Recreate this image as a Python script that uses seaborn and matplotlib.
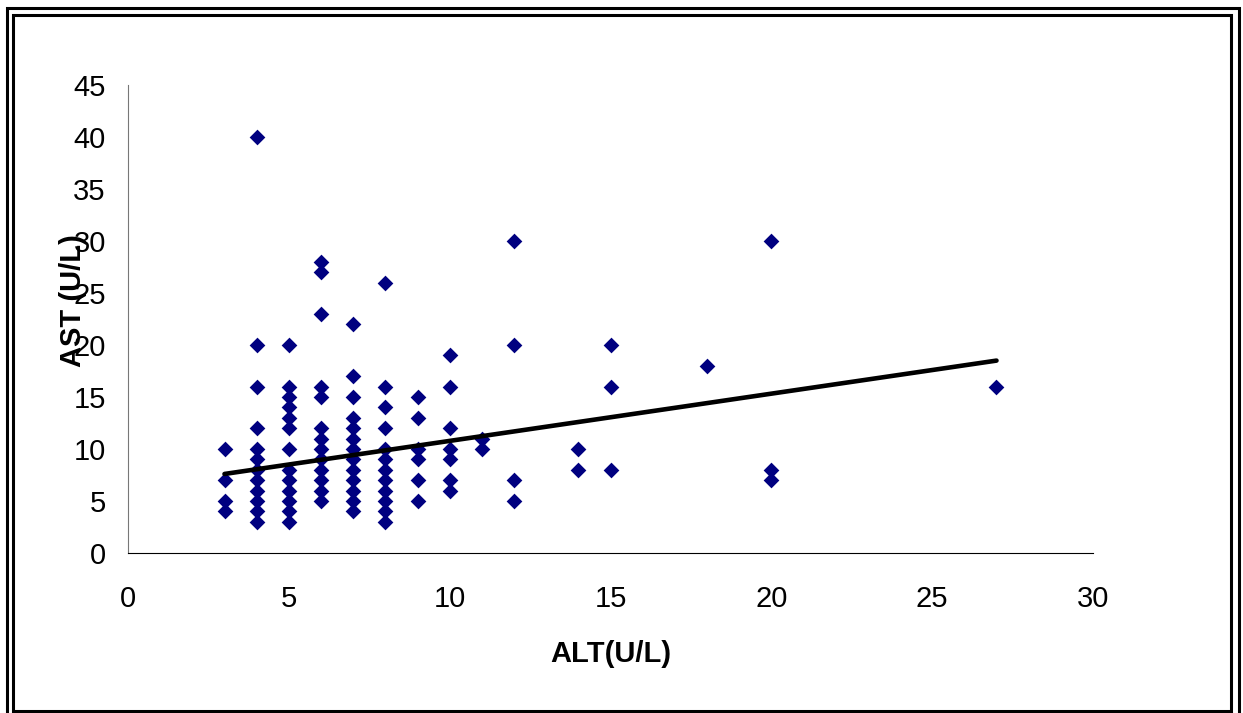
import matplotlib
matplotlib.use("Agg")
import matplotlib.pyplot as plt
import matplotlib.patches as mpatches
import numpy as np
import pandas as pd
import seaborn as sns

# ---------------------------------------------------------
# Data (ALT vs AST, U/L)
# ---------------------------------------------------------
alt_3 = [10, 7, 5, 4]
alt_4 = [40, 20, 16, 12, 10, 9, 8, 7, 6, 5, 4, 3]
alt_5 = [20, 16, 15, 14, 13, 12, 10, 8, 7, 6, 5, 4, 3]
alt_6 = [28, 27, 23, 16, 15, 12, 11, 10, 9, 8, 7, 6, 5]
alt_7 = [22, 17, 15, 13, 12, 11, 10, 9, 8, 7, 6, 5, 4]
alt_8 = [26, 16, 14, 12, 10, 9, 8, 7, 6, 5, 4, 3]
alt_9 = [15, 13, 10, 9, 7, 5]
alt_10 = [19, 16, 12, 10, 9, 7, 6]
alt_11 = [11, 10]
alt_12 = [30, 20, 7, 5]
alt_14 = [10, 8]
alt_15 = [20, 16, 8]
alt_18 = [18]
alt_20 = [30, 8, 7]
alt_27 = [16]

groups = {3: alt_3, 4: alt_4, 5: alt_5, 6: alt_6, 7: alt_7, 8: alt_8, 9: alt_9,
          10: alt_10, 11: alt_11, 12: alt_12, 14: alt_14, 15: alt_15,
          18: alt_18, 20: alt_20, 27: alt_27}

# linear trendline as drawn in the reference (end points;
# the original fit includes overlapping points that cannot be seen)
trend_alt = [3, 27]
trend_ast = [7.6, 18.5]

x_ticks = [0, 5, 10, 15, 20, 25, 30]
y_ticks = [0, 5, 10, 15, 20, 25, 30, 35, 40, 45]

rows = [(alt, ast) for alt, vals in groups.items() for ast in vals]
df = pd.DataFrame(rows, columns=["ALT", "AST"])
trend_df = pd.DataFrame({"ALT": trend_alt, "AST": trend_ast})

# ---------------------------------------------------------
# Plot
# ---------------------------------------------------------
sns.set_style("white")
plt.rcParams["font.family"] = ["Liberation Sans", "DejaVu Sans"]
plt.rcParams["text.color"] = "black"
plt.rcParams["axes.labelcolor"] = "black"

W, H, DPI = 1243, 713, 100
fig = plt.figure(figsize=(W / DPI, H / DPI), dpi=DPI)
ax = fig.add_axes([128 / W, 1 - 553 / H, (1093 - 128) / W, (553 - 85) / H])

sns.scatterplot(data=df, x="ALT", y="AST", marker="D", color="#000080",
                s=64, linewidth=0, ax=ax, zorder=2)
sns.lineplot(data=trend_df, x="ALT", y="AST", color="black", linewidth=3.3,
             ax=ax, zorder=3)

ax.set_xlim(0, 30)
ax.set_ylim(0, 45)
ax.set_xticks(x_ticks)
ax.set_yticks(y_ticks)
ax.tick_params(axis="both", direction="out", length=9, width=1,
               labelsize=21, colors="black")
ax.tick_params(axis="x", pad=14)
ax.tick_params(axis="y", pad=7, color="#555555")

sns.despine(ax=ax)
ax.spines["left"].set_color("#777777")
ax.spines["bottom"].set_color("black")

ax.set_xlabel("ALT(U/L)", fontsize=21, fontweight="bold", color="black")
ax.set_ylabel("AST (U/L)", fontsize=21, fontweight="bold", color="black")
ax.xaxis.set_label_coords(0.5, -0.186)
ax.yaxis.set_label_coords(-0.0425, 0.54)

# double frame around the chart area
frames = [(6.5, 8, 1238.5, 720), (13, 15, 1231, 711)]
for x0, y0, x1, y1 in frames:
    fig.patches.append(mpatches.Rectangle(
        (x0 / W, 1 - y1 / H), (x1 - x0) / W, (y1 - y0) / H,
        transform=fig.transFigure, fill=False, edgecolor="black",
        linewidth=2.2))

fig.savefig("out.png", dpi=DPI)
